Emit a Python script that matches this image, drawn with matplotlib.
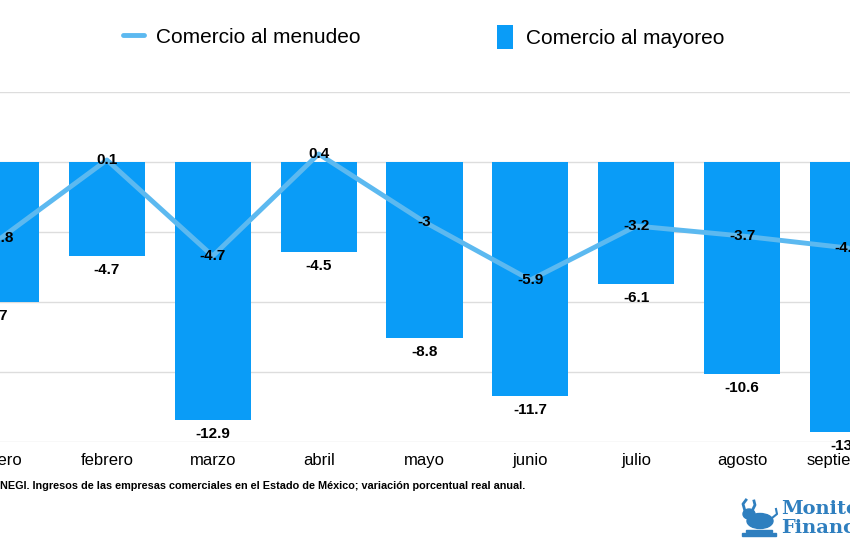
import matplotlib.pyplot as plt
from matplotlib.patches import Ellipse, Rectangle
import numpy as np

meses = ['enero', 'febrero', 'marzo', 'abril', 'mayo', 'junio', 'julio',
         'agosto', 'septiembre']
mayoreo = [-7, -4.7, -12.9, -4.5, -8.8, -11.7, -6.1, -10.6, -13.5]
menudeo = [-3.8, 0.1, -4.7, 0.4, -3, -5.9, -3.2, -3.7, -4.3]

plt.rcParams['font.family'] = ['Liberation Sans', 'DejaVu Sans']

W, H = 850, 550
fig = plt.figure(figsize=(W / 100, H / 100), dpi=100)
fig.patch.set_facecolor('white')

# el grafico original esta recortado: el eje ocupa todo el ancho
ax = fig.add_axes([0, (H - 442) / H, 1, 350 / H])
x = np.arange(len(meses))
paso = 847 / 8
a = -1 / paso
ax.set_xlim(a, a + W / paso)
ax.set_ylim(-14, 3.5)

barras = ax.bar(x, mayoreo, width=0.72, color='#0a9cf7', zorder=2)
linea, = ax.plot(x, menudeo, color='#5cb9f0', lw=3.5, zorder=3,
                 solid_capstyle='round')

for xi, v in zip(x, mayoreo):
    ax.annotate(f'{v:g}', (xi, v), xytext=(0, -5), textcoords='offset points',
                ha='center', va='top', fontsize=11, fontweight='bold',
                zorder=4)
for xi, v in zip(x, menudeo):
    ax.text(xi, v, f'{v:g}', ha='center', va='center', fontsize=11,
            fontweight='bold', zorder=4)

ax.set_yticks([3.5, 0, -3.5, -7, -10.5, -14])
ax.yaxis.grid(True, color='#dddddd', lw=1, zorder=0)
ax.tick_params(axis='y', length=0, labelleft=False)
ax.set_xticks(x)
ax.set_xticklabels(meses, fontsize=12)
ax.tick_params(axis='x', length=0, pad=8)
for s in ax.spines.values():
    s.set_visible(False)
ax.set_facecolor('white')

fig.legend([linea], ['Comercio al menudeo'], loc='center left',
           bbox_to_anchor=(104 / W, 1 - 37 / H), frameon=False, fontsize=15,
           handlelength=1.0, handletextpad=0.6)
fig.legend([barras], ['Comercio al mayoreo'], loc='center left',
           bbox_to_anchor=(478 / W, 1 - 37 / H), frameon=False, fontsize=15,
           handlelength=0.8, handleheight=1.4, handletextpad=0.6)

fig.text(0, 1 - 486 / H,
         'NEGI. Ingresos de las empresas comerciales en el Estado de México; '
         'variación porcentual real anual.',
         fontsize=7.8, fontweight='bold', va='center', ha='left')

# logo (recortado en el original)
logo = '#2f7fbf'
fig.text(781 / W, 1 - 509 / H, 'Monitor', fontsize=14, fontweight='bold',
         family='DejaVu Serif', color=logo, va='center', ha='left')
fig.text(781 / W, 1 - 528 / H, 'Financiero', fontsize=14, fontweight='bold',
         family='DejaVu Serif', color=logo, va='center', ha='left')
lx = fig.add_axes([738 / W, (H - 538) / H, 42 / W, 40 / H])
lx.set_xlim(0, 42)
lx.set_ylim(0, 40)
lx.axis('off')
lx.add_patch(Rectangle((4, 2), 34, 3, color=logo))
lx.add_patch(Rectangle((8, 6), 26, 2, color=logo))
lx.add_patch(Ellipse((22, 17), 26, 15, color=logo))
lx.add_patch(Ellipse((11, 24), 12, 10, color=logo))
lx.plot([7, 5, 8], [27, 34, 38], color=logo, lw=2)
lx.plot([14, 17, 16], [27, 33, 37], color=logo, lw=2)
lx.plot([34, 39, 38], [20, 24, 29], color=logo, lw=1.5)

fig.savefig('out.png', dpi=100, facecolor='white')
